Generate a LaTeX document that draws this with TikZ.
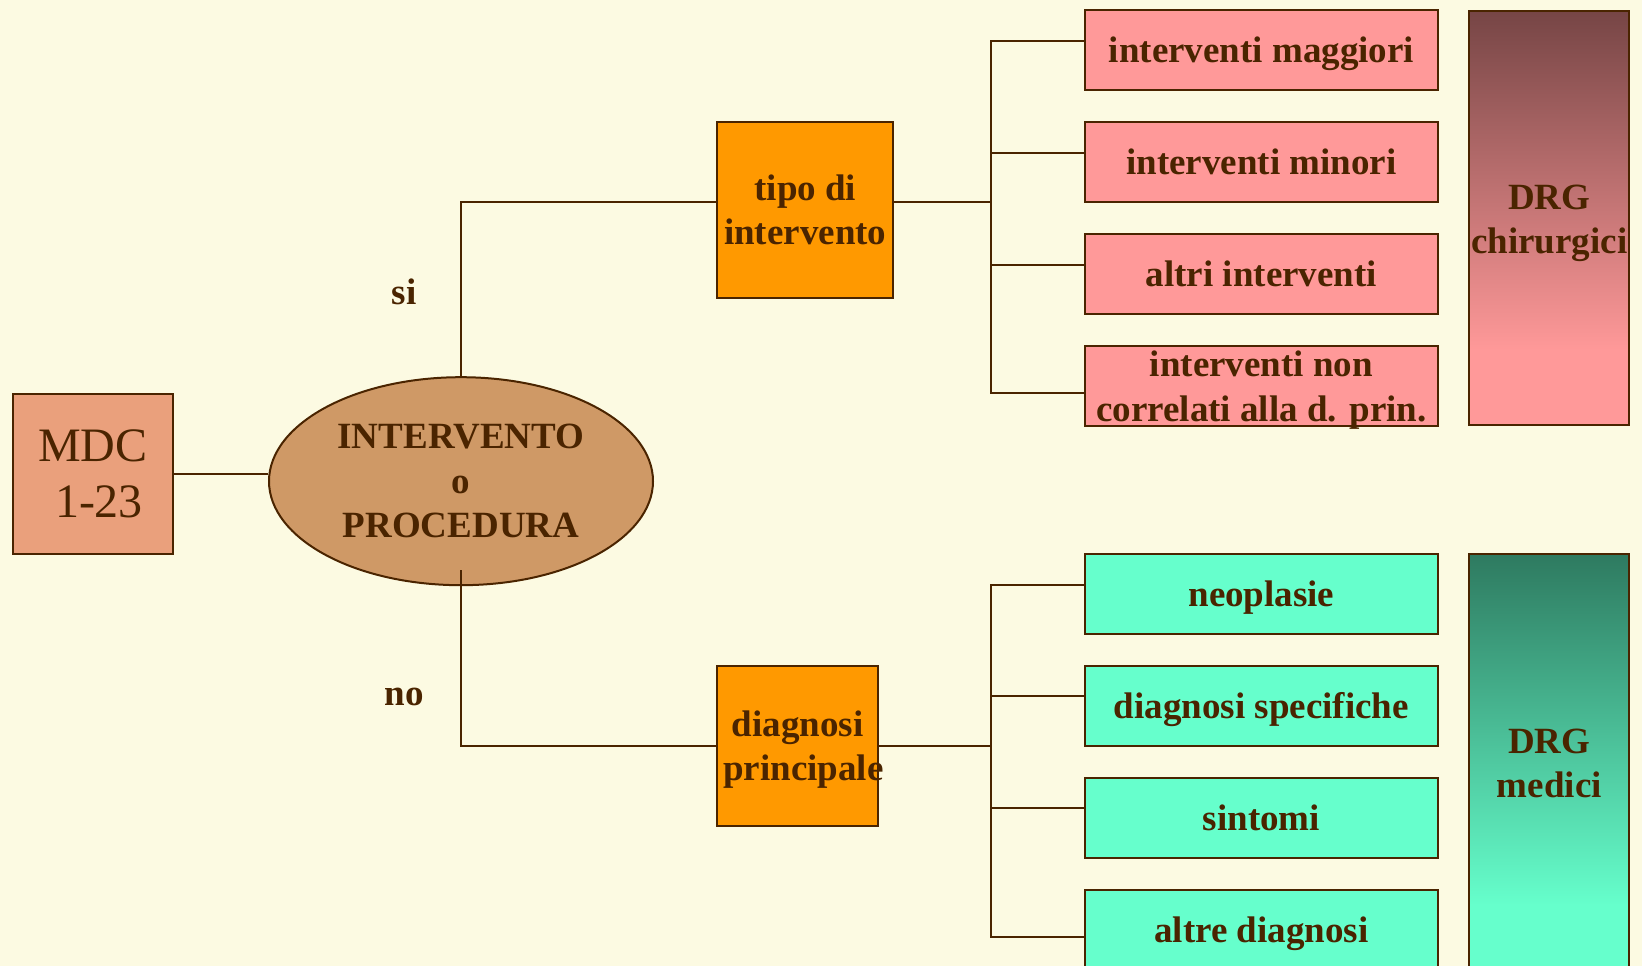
\documentclass[tikz,border=0pt]{standalone}
\usepackage{fontspec}
\setmainfont{Liberation Serif}
\usetikzlibrary{calc,shapes.geometric}
\definecolor{bg}{HTML}{FCFAE2}
\definecolor{ink}{HTML}{4A2400}
\definecolor{mdcfill}{HTML}{EAA07C}
\definecolor{ellfill}{HTML}{CF9966}
\definecolor{orangefill}{HTML}{FF9900}
\definecolor{pinkfill}{HTML}{FF9999}
\definecolor{greenfill}{HTML}{66FFCC}
\definecolor{chirtop}{HTML}{764545}
\definecolor{meditop}{HTML}{2E7A60}
\pgfdeclareverticalshading{chirshade}{100bp}{color(0bp)=(pinkfill); color(34bp)=(pinkfill); color(75bp)=(chirtop); color(100bp)=(chirtop)}
\pgfdeclareverticalshading{medishade}{100bp}{color(0bp)=(greenfill); color(33bp)=(greenfill); color(75bp)=(meditop); color(100bp)=(meditop)}
\begin{document}
\begin{tikzpicture}[x=1pt,y=-1pt,
  every node/.style={text=ink, font=\bfseries\fontsize{37}{44.5}\selectfont, align=center, inner sep=0pt, text depth=0pt},
  boxbase/.style={draw=ink, line width=2pt, rectangle},
  mdcbox/.style={boxbase, fill=mdcfill, minimum width=160pt, minimum height=160pt, font=\fontsize{48}{56.5}\selectfont, text depth=-6pt},
  ellbox/.style={draw=ink, line width=2pt, ellipse, fill=ellfill, minimum width=384pt, minimum height=208pt, text depth=-6pt},
  orangebox/.style={boxbase, fill=orangefill},
  pinkbox/.style={boxbase, fill=pinkfill, minimum width=353pt, minimum height=80pt},
  greenbox/.style={boxbase, fill=greenfill, minimum width=353pt, minimum height=80pt},
  drgbox/.style={boxbase, minimum width=160pt},
  lowtext/.style={text depth=-4pt},
  conn/.style={draw=ink, line width=2pt},
  lbl/.style={}
]
\useasboundingbox (0,0) rectangle (1642,966);
\clip (0,0) rectangle (1642,966);
\fill[bg] (0,0) rectangle (1642,966);

\node[mdcbox] (mdc) at (93,473.7) {MDC\\\ 1-23};
\node[ellbox] (ell) at (461,481.2) {INTERVENTO\\o\\PROCEDURA};
\node[orangebox, minimum width=176pt, minimum height=176pt] (tipo) at (805.3,209.7) {tipo di\\intervento};
\node[orangebox, minimum width=160pt, minimum height=160pt] (diag) at (797.5,745.7) {diagnosi\\\hspace*{6pt}principale\hspace*{-6pt}};

\node[pinkbox] (p1) at (1261.4,50) {interventi maggiori};
\node[pinkbox, lowtext] (p2) at (1261.4,162) {interventi minori};
\node[pinkbox, lowtext] (p3) at (1261.4,274) {altri interventi};
\node[pinkbox] (p4) at (1261.4,386) {interventi non\\correlati alla d. prin.};

\node[greenbox] (g1) at (1261.4,593.7) {neoplasie};
\node[greenbox] (g2) at (1261.4,705.7) {diagnosi specifiche};
\node[greenbox, lowtext] (g3) at (1261.4,817.7) {sintomi};
\node[greenbox] (g4) at (1261.4,929.7) {altre diagnosi};

\node[drgbox, minimum height=414.7pt, shading=chirshade] (chir) at (1549.3,217.9) {};
\node (chirtxt) at (1549.3,219.4) {DRG\\chirurgici};
\node[drgbox, minimum height=418.3pt, shading=medishade] (medi) at (1549.3,762.9) {};
\node[lowtext] (meditxt) at (1549.3,763) {DRG\\medici};

\node[lbl] (si) at (404.2,292) {si};
\node[lbl] (no) at (404.2,697) {no};

% connectors
\draw[conn] (mdc.east) -- (mdc.east -| ell.west);
\draw[conn] (ell.north) |- ($(tipo.west)+(0,-8)$);
\draw[conn] ($(ell.south)+(0,-16)$) |- (diag.west);

\draw[conn] ($(tipo.east)+(0,-8)$) -- ++(96.7,0) coordinate (j1);
\draw[conn] ($(p1.north west)+(0,31.7)$) -| (j1);
\draw[conn] ($(p2.north west)+(0,31.7)$) -| (j1);
\draw[conn] ($(p3.north west)+(0,31.7)$) -| (j1);
\draw[conn] ($(p4.north west)+(0,47.7)$) -| (j1);

\draw[conn] (diag.east) -- ++(112.5,0) coordinate (j2);
\draw[conn] ($(g1.north west)+(0,32)$) -| (j2);
\draw[conn] ($(g2.north west)+(0,31.6)$) -| (j2);
\draw[conn] ($(g3.north west)+(0,31.6)$) -| (j2);
\draw[conn] ($(g4.north west)+(0,48)$) -| (j2);
\end{tikzpicture}
\end{document}
